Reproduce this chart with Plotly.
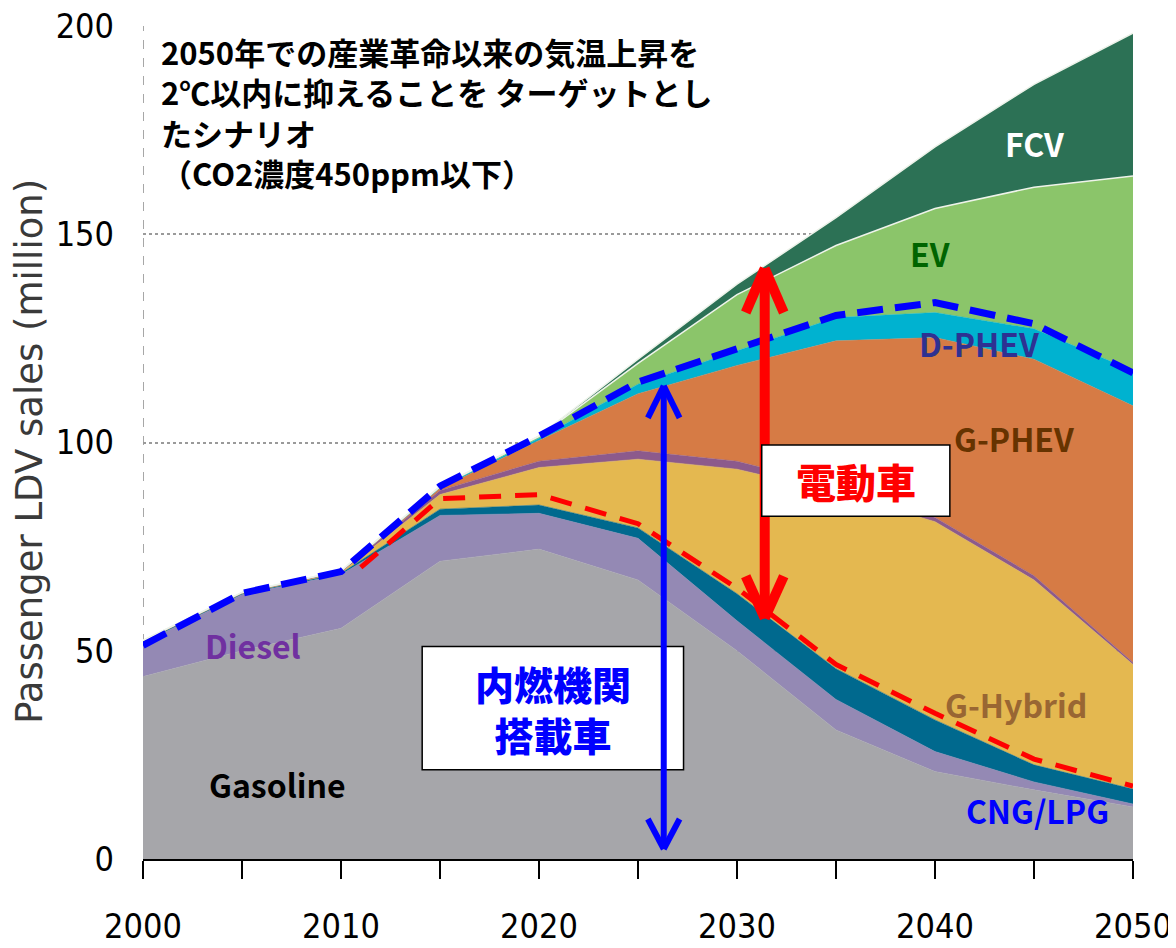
import plotly.graph_objects as go

# Data (million vehicles, thickness of each stacked layer)
years = [2000, 2005, 2010, 2015, 2020, 2025, 2030, 2035, 2040, 2045, 2050]
year_labels = ["2000", "", "2010", "", "2020", "", "2030", "", "2040", "", "2050"]

gasoline = [43.8, 50.0, 55.4, 71.5, 74.4, 67.0, 50.0, 31.0, 21.0, 16.6, 12.5]
diesel = [8.2, 13.5, 12.9, 11.0, 8.6, 10.0, 7.2, 7.3, 4.8, 1.9, 0.7]
cng_lpg = [0.2, 0.2, 0.3, 1.5, 2.0, 2.5, 6.5, 7.4, 7.6, 4.1, 3.6]
g_hybrid = [0.1, 0.1, 0.2, 3.5, 9.0, 16.5, 29.9, 42.3, 47.6, 44.4, 29.9]
d_hybrid = [0.1, 0.1, 0.2, 1.0, 1.5, 2.0, 1.9, 1.5, 1.0, 1.0, 0.5]
g_phev = [0.0, 0.0, 0.0, 0.5, 5.0, 13.7, 23.0, 34.9, 43.2, 52.0, 61.6]
d_phev = [0.1, 0.1, 0.1, 0.2, 0.5, 2.3, 3.5, 5.6, 6.0, 7.3, 8.4]
ev = [0.0, 0.0, 0.1, 0.2, 0.5, 5.0, 13.5, 17.3, 25.0, 34.0, 46.8]
fcv = [0.0, 0.0, 0.0, 0.1, 0.1, 1.0, 2.5, 6.7, 14.8, 24.7, 34.3]

# dashed boundary lines drawn over the areas
ice_years = [2000, 2005, 2010, 2015, 2020, 2025, 2030, 2035, 2040, 2045, 2050]
ice_total = [51.3, 63.8, 69.0, 89.5, 101.5, 114.5, 122.5, 130.5, 133.6, 128.5, 116.7]
conv_years = [2011, 2015, 2020, 2025, 2030, 2035, 2040, 2045, 2050]
conv_total = [70.0, 86.5, 87.5, 80.5, 65.0, 46.7, 35.0, 24.0, 17.5]

layers = [
    ("Gasoline", gasoline, "#a6a6aa"),
    ("Diesel", diesel, "#9489b4"),
    ("CNG/LPG", cng_lpg, "#00698e"),
    ("G-Hybrid", g_hybrid, "#e4b850"),
    ("D-Hybrid", d_hybrid, "#8c5a8c"),
    ("G-PHEV", g_phev, "#d67b45"),
    ("D-PHEV", d_phev, "#00b2d0"),
    ("EV", ev, "#8bc56a"),
    ("FCV", fcv, "#2c7155"),
]

fig = go.Figure()

for name, vals, color in layers:
    edge = "#eef3ea" if name in ("EV", "FCV") else color
    fig.add_trace(go.Scatter(
        x=years, y=vals, name=name, stackgroup="one", mode="lines",
        line=dict(width=1.5 if name in ("EV", "FCV") else 0.5, color=edge),
        fillcolor=color, hoverinfo="skip", showlegend=False
    ))

fig.add_trace(go.Scatter(
    x=conv_years, y=conv_total, mode="lines",
    line=dict(color="#ff0000", width=5, dash="22px,14px"),
    hoverinfo="skip", showlegend=False
))
fig.add_trace(go.Scatter(
    x=ice_years, y=ice_total, mode="lines",
    line=dict(color="#0000ff", width=7, dash="26px,12px"),
    hoverinfo="skip", showlegend=False
))

shapes = []
# left border of plot area
shapes.append(dict(type="line", xref="x", yref="y", x0=2000, x1=2000, y0=0, y1=200,
                   line=dict(color="#8a8a8a", width=1.5, dash="dash"), layer="below"))

# red double arrow (electric vehicles)
rx, r_top, r_bot = 2031.4, 141.8, 57.8
red = dict(color="#ff0000", width=10)
shapes.append(dict(type="line", xref="x", yref="y", x0=rx, x1=rx, y0=r_bot, y1=r_top, line=red))
for dx in (-0.96, 0.96):
    shapes.append(dict(type="line", xref="x", yref="y", x0=rx, x1=rx + dx, y0=r_top, y1=r_top - 10.6, line=red))
    shapes.append(dict(type="line", xref="x", yref="y", x0=rx, x1=rx + dx, y0=r_bot, y1=r_bot + 10.1, line=red))

# label boxes
shapes.append(dict(type="rect", xref="x", yref="y", x0=2031.25, x1=2040.75, y0=82.3, y1=99.4,
                   fillcolor="white", line=dict(color="black", width=1.5)))
shapes.append(dict(type="rect", xref="x", yref="y", x0=2014.1, x1=2027.3, y0=21.4, y1=51.0,
                   fillcolor="white", line=dict(color="black", width=1.5)))

# blue double arrow (ICE vehicles)
bx, b_top, b_bot = 2026.3, 113.6, 2.4
blue = dict(color="#0000ff", width=6)
shapes.append(dict(type="line", xref="x", yref="y", x0=bx, x1=bx, y0=b_bot, y1=b_top, line=blue))
for dx in (-0.8, 0.8):
    shapes.append(dict(type="line", xref="x", yref="y", x0=bx, x1=bx + dx, y0=b_top, y1=b_top - 7.7, line=blue))
    shapes.append(dict(type="line", xref="x", yref="y", x0=bx, x1=bx + dx, y0=b_bot, y1=b_bot + 7.2, line=blue))

cjk = "Noto Sans CJK JP"
labels = [
    ("FCV", 2045.05, 171.8, "white"),
    ("EV", 2039.75, 145.6, "#006400"),
    ("D-PHEV", 2042.2, 123.9, "#2e3192"),
    ("G-PHEV", 2044.0, 101.1, "#663300"),
    ("G-Hybrid", 2044.1, 37.1, "#996633"),
    ("CNG/LPG", 2045.2, 11.8, "#0000ff"),
    ("Diesel", 2005.55, 51.5, "#7030a0"),
    ("Gasoline", 2006.8, 18.0, "black"),
]
annotations = []
for text, x, y, color in labels:
    annotations.append(dict(x=x, y=y, xref="x", yref="y", text=text, showarrow=False,
                            font=dict(family=cjk, size=32, color=color, weight="bold")))

annotations.append(dict(x=2036.0, y=90.8, xref="x", yref="y", text="電動車", showarrow=False,
                        font=dict(family=cjk, size=40, color="#ff0000", weight=900)))
annotations.append(dict(x=2020.7, y=36.2, xref="x", yref="y", text="内燃機関<br>搭載車", showarrow=False,
                        font=dict(family=cjk, size=39, color="#0000ff", weight=900)))

annotations.append(dict(
    x=0.016, y=0.999, xref="paper", yref="paper", xanchor="left", yanchor="top", align="left",
    showarrow=False,
    text="2050年での産業革命以来の気温上昇を<br>2℃以内に抑えることを ターゲットとし<br>たシナリオ<br>（CO2濃度450ppm以下）",
    font=dict(family=cjk, size=31, color="black", weight="bold")
))
annotations.append(dict(
    x=-0.114, y=0.489, xref="paper", yref="paper", xanchor="center", yanchor="middle",
    textangle=-90, showarrow=False,
    text="Passenger LDV sales (million)",
    font=dict(family="DejaVu Sans", size=37, color="#3a3a3a")
))

tick_font = dict(family="Liberation Sans Narrow, DejaVu Sans Condensed, sans-serif", size=34, color="black")

# page body adds an 8px margin, so the figure is sized to fit inside the window
fig.update_layout(
    width=1160, height=932,
    margin=dict(l=135, r=35, t=18, b=81),
    plot_bgcolor="white", paper_bgcolor="white",
    shapes=shapes, annotations=annotations,
    xaxis=dict(range=[2000, 2050], tickvals=years, ticktext=year_labels,
               ticks="outside", ticklen=18, tickwidth=2, tickcolor="black",
               showline=True, linecolor="black", linewidth=2,
               showgrid=False, zeroline=False, tickfont=tick_font,
               ticklabelstandoff=18, automargin=False, ticklabeloverflow="allow"),
    yaxis=dict(range=[0, 200], tickvals=[0, 50, 100, 150, 200],
               showgrid=True, gridcolor="#9a9a9a", griddash="dot", gridwidth=2,
               zeroline=False, showline=False, tickfont=tick_font,
               ticklabelstandoff=28, automargin=False, ticklabeloverflow="allow"),
)

fig.write_html("out.html")
